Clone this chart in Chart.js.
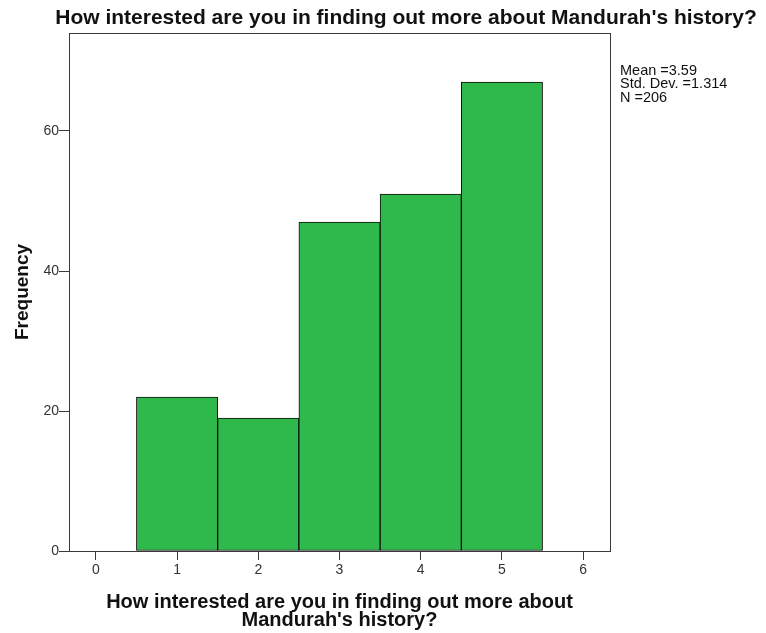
<!DOCTYPE html>
<html>
<head>
<meta charset="utf-8">
<script src="https://cdn.jsdelivr.net/npm/chart.js@4"></script>
<style>
  html, body { margin: 0; padding: 0; background: #fff; }
  #wrap { width: 766px; height: 633px; }
</style>
</head>
<body>
<div id="wrap"><canvas id="c" width="766" height="633"></canvas></div>
<script>
const titleText = "How interested are you in finding out more about Mandurah's history?";
const xTitle = ["How interested are you in finding out more about", "Mandurah's history?"];
const yTitle = "Frequency";
const categories = [1, 2, 3, 4, 5];
const frequencies = [22, 19, 47, 51, 67];
const xTicks = [0, 1, 2, 3, 4, 5, 6];
const yTicks = [0, 20, 40, 60];
const statsLines = ["Mean =3.59", "Std. Dev. =1.314", "N =206"];

const FONT = "'Liberation Sans', Arial, sans-serif";
const AXIS = '#3a3a3a';

const extras = {
  id: 'extras',
  afterDraw(chart) {
    const ctx = chart.ctx;
    const a = chart.chartArea;
    ctx.save();
    ctx.strokeStyle = AXIS;
    ctx.lineWidth = 1;
    ctx.strokeRect(Math.round(a.left) + 0.5, Math.round(a.top) + 0.5,
                   Math.round(a.right - a.left), Math.round(a.bottom - a.top));
    ctx.fillStyle = '#111';
    ctx.font = 'bold 21px ' + FONT;
    ctx.textAlign = 'center';
    ctx.textBaseline = 'alphabetic';
    ctx.fillText(titleText, 406, 24);
    ctx.font = '14.5px ' + FONT;
    ctx.textAlign = 'left';
    statsLines.forEach((t, i) => ctx.fillText(t, 620, 75 + i * 13.3));
    ctx.restore();
  }
};

new Chart(document.getElementById('c'), {
  type: 'bar',
  data: {
    datasets: [{
      data: categories.map((c, i) => ({ x: c, y: frequencies[i] })),
      backgroundColor: '#2fb84b',
      borderColor: '#111111',
      borderWidth: 1,
      borderSkipped: false,
      barPercentage: 1,
      categoryPercentage: 1,
      grouped: false
    }]
  },
  options: {
    responsive: false,
    animation: false,
    devicePixelRatio: 1,
    layout: { padding: { top: 33, right: 156, left: 0, bottom: 0 } },
    plugins: { legend: { display: false }, tooltip: { enabled: false }, title: { display: false } },
    scales: {
      x: {
        type: 'linear',
        offset: false,
        min: -0.33,
        max: 6.33,
        afterFit(s) { s.height = 633 - 551; },
        afterBuildTicks(s) { s.ticks = xTicks.map(v => ({ value: v })); },
        grid: { offset: false, drawOnChartArea: false, drawTicks: true, tickLength: 9, color: AXIS },
        border: { display: true, color: AXIS },
        ticks: { font: { family: FONT, size: 14 }, color: '#333', padding: 2, maxRotation: 0, autoSkip: false },
        title: {
          display: true, text: xTitle, color: '#111',
          font: { family: FONT, size: 20, weight: 'bold', lineHeight: 0.92 },
          padding: { top: 0, bottom: 3 }
        }
      },
      y: {
        min: 0,
        max: 74,
        afterFit(s) { s.width = 69; },
        afterBuildTicks(s) { s.ticks = yTicks.map(v => ({ value: v })); },
        grid: { drawOnChartArea: false, drawTicks: true, tickLength: 10, color: AXIS },
        border: { display: true, color: AXIS },
        ticks: { font: { family: FONT, size: 14 }, color: '#333', padding: 0 },
        title: {
          display: true, text: yTitle, color: '#111',
          font: { family: FONT, size: 19, weight: 'bold', lineHeight: 1.1 },
          padding: { top: 12, bottom: 0 }
        }
      }
    }
  },
  plugins: [extras]
});
</script>
</body>
</html>
